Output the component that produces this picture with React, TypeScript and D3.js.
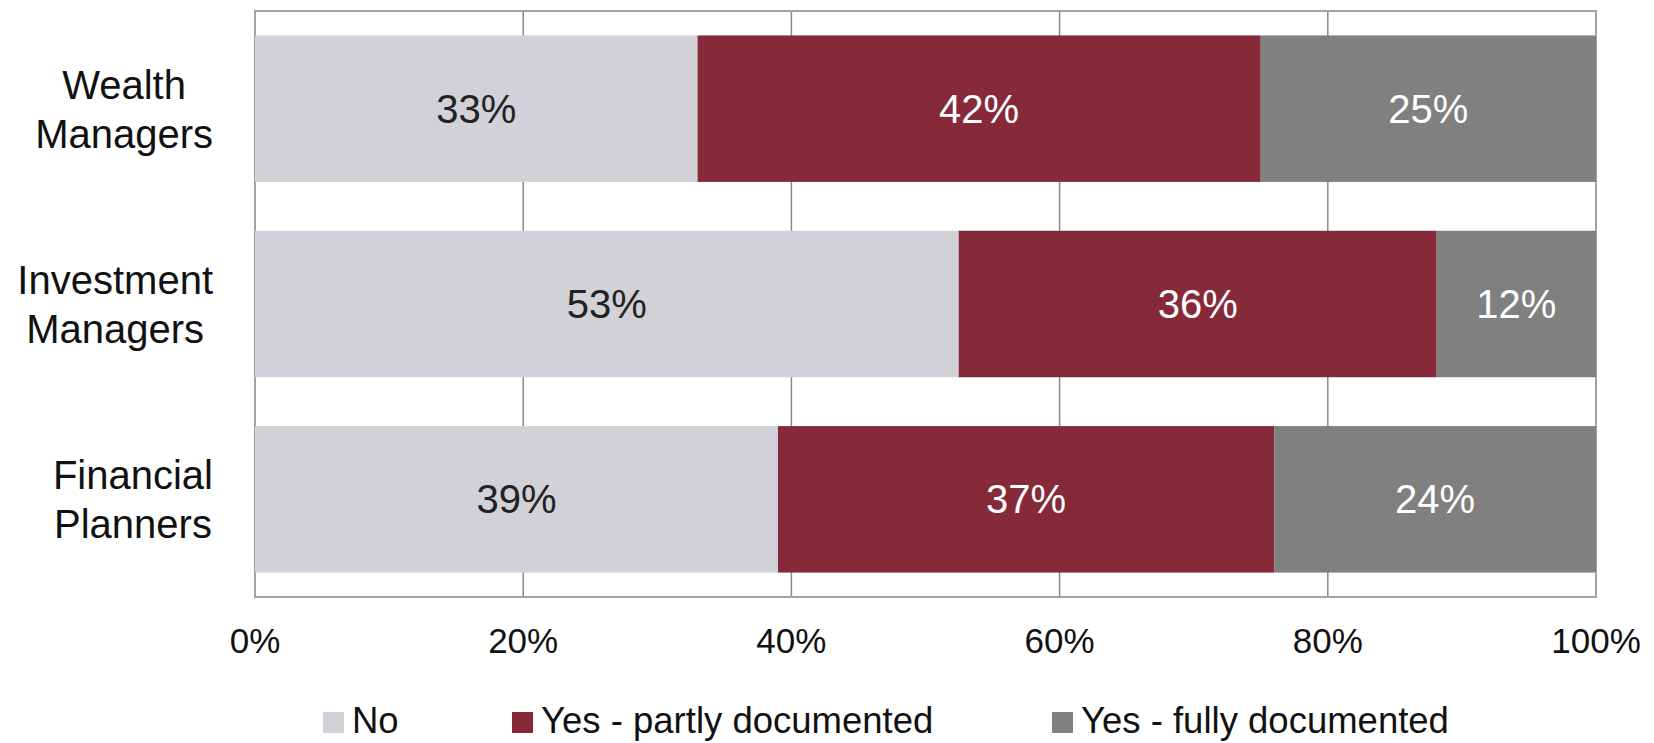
import React, { useEffect, useRef } from "react";
import * as d3 from "d3";

const categories = ["Wealth Managers", "Investment Managers", "Financial Planners"];
const categoryLines = [["Wealth", "Managers"], ["Investment", "Managers"], ["Financial", "Planners"]];
const seriesNames = ["No", "Yes - partly documented", "Yes - fully documented"];
const noValues = [33, 53, 39];
const partlyValues = [42, 36, 37];
const fullyValues = [25, 12, 24];
const xTicks = [0, 0.2, 0.4, 0.6, 0.8, 1];

const colors = ["#d1d1d7", "#862a3a", "#808080"];
const labelColors = ["#222222", "#ffffff", "#ffffff"];
const FONT = "'Liberation Sans', Arial, Helvetica, sans-serif";

export default function App() {
  const ref = useRef<SVGSVGElement | null>(null);

  useEffect(() => {
    const svg = d3.select(ref.current);
    svg.selectAll("*").remove();
    const W = 1654, H = 743;
    const m = { left: 255, right: 1596, top: 11, bottom: 597 };

    const rows = categories.map((c, i) => ({
      cat: c,
      [seriesNames[0]]: noValues[i],
      [seriesNames[1]]: partlyValues[i],
      [seriesNames[2]]: fullyValues[i],
    }));
    const stack = d3.stack<any>().keys(seriesNames).offset(d3.stackOffsetExpand);
    const layers = stack(rows);

    const x = d3.scaleLinear().domain([0, 1]).range([m.left, m.right]);
    const y = d3.scaleBand().domain(categories).range([m.top, m.bottom]).paddingInner(0.25).paddingOuter(0.125);

    svg.attr("width", W).attr("height", H).style("font-family", FONT);
    svg.append("rect").attr("width", W).attr("height", H).attr("fill", "#fff");

    // gridlines
    svg.append("g").selectAll("line").data(xTicks.slice(1, -1)).join("line")
      .attr("x1", d => x(d)).attr("x2", d => x(d))
      .attr("y1", m.top).attr("y2", m.bottom)
      .attr("stroke", "#8a8a8a").attr("stroke-width", 1.5);

    // frame
    svg.append("rect").attr("x", m.left).attr("y", m.top)
      .attr("width", m.right - m.left).attr("height", m.bottom - m.top)
      .attr("fill", "none").attr("stroke", "#a3a3a3").attr("stroke-width", 2);

    // bars
    const g = svg.append("g");
    layers.forEach((layer, li) => {
      g.append("g").selectAll("rect").data(layer).join("rect")
        .attr("x", d => x(d[0]))
        .attr("width", d => x(d[1]) - x(d[0]))
        .attr("y", d => y(d.data.cat)!)
        .attr("height", y.bandwidth())
        .attr("fill", colors[li]);
      g.append("g").selectAll("text").data(layer).join("text")
        .attr("x", d => (x(d[0]) + x(d[1])) / 2)
        .attr("y", d => y(d.data.cat)! + y.bandwidth() / 2 + 14)
        .attr("text-anchor", "middle")
        .attr("font-size", 40)
        .attr("fill", labelColors[li])
        .text(d => `${d.data[seriesNames[li]]}%`);
    });

    // x tick labels
    svg.append("g").selectAll("text").data(xTicks).join("text")
      .attr("x", d => x(d)).attr("y", 653)
      .attr("text-anchor", "middle").attr("font-size", 35).attr("fill", "#111")
      .text(d => d3.format(".0%")(d));

    // category labels: block right-aligned at 213, lines centered in block
    const labelRight = 213;
    categories.forEach((c, i) => {
      const cy = y(c)! + y.bandwidth() / 2;
      const grp = svg.append("g");
      const texts = grp.selectAll("text").data(categoryLines[i]).join("text")
        .attr("y", (_d, j) => cy - 10 + j * 49)
        .attr("text-anchor", "middle").attr("font-size", 40).attr("fill", "#111")
        .text(d => d);
      let maxW = 0;
      texts.each(function () {
        maxW = Math.max(maxW, (this as SVGTextElement).getComputedTextLength());
      });
      texts.attr("x", labelRight - maxW / 2);
    });

    // legend
    const legendX = [323, 512, 1052];
    const lg = svg.append("g");
    seriesNames.forEach((s, i) => {
      lg.append("rect").attr("x", legendX[i]).attr("y", 712).attr("width", 21).attr("height", 21).attr("fill", colors[i]);
      lg.append("text").attr("x", legendX[i] + 29).attr("y", 733)
        .attr("font-size", 36.5).attr("fill", "#111").text(s);
    });
  }, []);

  return (
    <div style={{ position: "absolute", left: 0, top: 0 }}>
      <svg ref={ref} style={{ display: "block" }} />
    </div>
  );
}
